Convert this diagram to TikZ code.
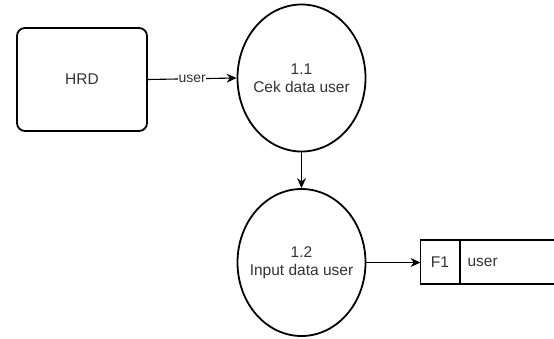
\documentclass[tikz,border=0pt]{standalone}
\usepackage{fontspec}
\setmainfont{Liberation Sans}
\usetikzlibrary{arrows.meta,shapes.geometric}
\definecolor{txt}{HTML}{333333}
\tikzset{
  entity/.style={draw=black, line width=1.8pt, rounded corners=8pt, minimum width=130pt, minimum height=103pt, inner sep=0pt, text=txt},
  process/.style={draw=black, line width=1.8pt, ellipse, minimum width=128pt, minimum height=147pt, inner sep=0pt},
  ptext/.style={align=center, text=txt, inner sep=0pt},
  flow/.style={line width=1.1pt, -{Stealth[length=10pt,width=9pt]}},
  lbl/.style={fill=white, inner sep=0.5pt, text=txt, font=\fontsize{14}{16}\selectfont},
}
\begin{document}
\begin{tikzpicture}[x=1pt,y=-1pt, font=\fontsize{15.5}{18.5}\selectfont]
\useasboundingbox (0,0) rectangle (554,338);
% external entity
\node[entity] (hrd) at (82,79.5) {HRD};
% processes: outline and caption
\node[process] (p1) at (301.5,78) {};
\node[ptext] (p1t) at (p1.center) {1.1\\Cek data user};
\node[process] (p2) at (301.5,262.5) {};
\node[ptext] (p2t) at (p2.center) {1.2\\Input data user};
% data store F1 (open on the right)
\coordinate (sTL) at (420.5,240);
\coordinate (sBL) at (420.5,284);
\draw[line width=1.1pt] (554,240) -- (sTL) -- (sBL) -- (554,284);
\draw[line width=1.1pt] (460,240) -- (460,284);
\node[text=txt, anchor=center] (f1) at (440,262) {F1};
\node[text=txt, anchor=west] (fname) at (464,262) {user};
% flows
\draw[flow] (hrd.east) -- node[lbl] (ul) {user} (p1.west);
\draw[flow] (p1.south) -- (p2.north);
\draw[flow] (p2.east) -- (sTL |- p2.east);
\end{tikzpicture}
\end{document}
